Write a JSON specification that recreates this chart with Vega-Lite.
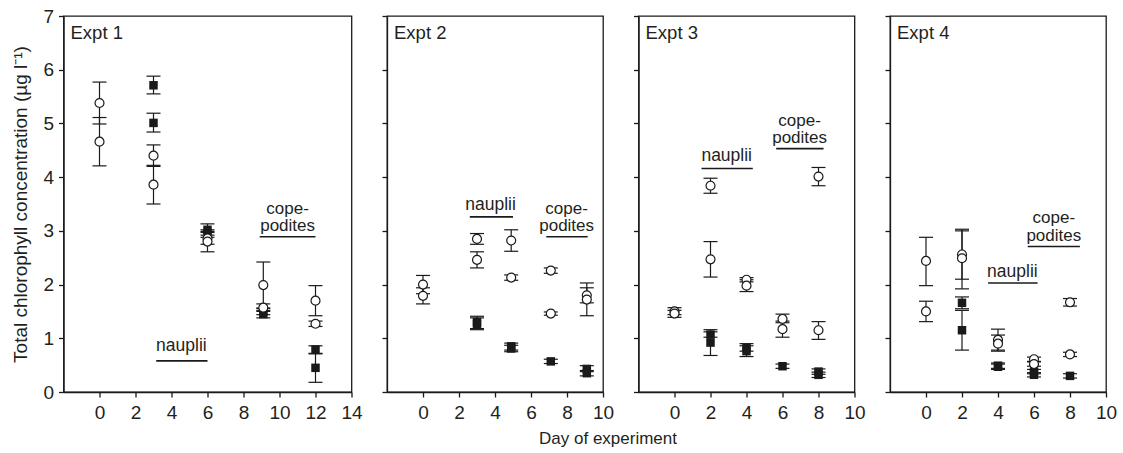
{
  "$schema": "https://vega.github.io/schema/vega-lite/v6.json",
  "background": "white",
  "padding": {"left": 10.5, "top": 6, "right": 5, "bottom": 5},
  "spacing": 35.5,
  "bounds": "flush",
  "config": {
    "font": "Liberation Sans",
    "view": {"stroke": "#1a1a1a", "strokeWidth": 1.3},
    "axis": {
      "grid": false,
      "domainColor": "#1a1a1a",
      "domainWidth": 1.3,
      "tickColor": "#1a1a1a",
      "tickWidth": 1.3,
      "tickSize": 5,
      "labelFont": "Liberation Sans",
      "labelFontSize": 19,
      "labelColor": "#231f20",
      "labelPadding": 5,
      "labelFlush": false,
      "labelOverlap": false,
      "format": "d",
      "titleFont": "Liberation Sans",
      "titleFontWeight": "normal",
      "titleColor": "#231f20"
    }
  },
  "datasets": {
    "pts": [
      {"expt": 1, "day": 0, "kind": "open", "value": 5.38, "lo": 4.99, "hi": 5.77},
      {"expt": 1, "day": 0, "kind": "open", "value": 4.66, "lo": 4.21, "hi": 5.11},
      {"expt": 1, "day": 3, "kind": "filled", "value": 5.71, "lo": 5.55, "hi": 5.88},
      {"expt": 1, "day": 3, "kind": "filled", "value": 5.01, "lo": 4.84, "hi": 5.19},
      {"expt": 1, "day": 3, "kind": "open", "value": 4.40, "lo": 4.20, "hi": 4.60},
      {"expt": 1, "day": 3, "kind": "open", "value": 3.86, "lo": 3.50, "hi": 4.22},
      {"expt": 1, "day": 6, "kind": "filled", "value": 3.02, "lo": 2.92, "hi": 3.13},
      {"expt": 1, "day": 6, "kind": "filled", "value": 2.95, "lo": 2.88, "hi": 3.02},
      {"expt": 1, "day": 6, "kind": "open", "value": 2.86, "lo": 2.75, "hi": 2.97},
      {"expt": 1, "day": 6, "kind": "open", "value": 2.80, "lo": 2.61, "hi": 2.99},
      {"expt": 1, "day": 9.1, "kind": "open", "value": 1.99, "lo": 1.56, "hi": 2.42},
      {"expt": 1, "day": 9.1, "kind": "open", "value": 1.57, "lo": 1.50, "hi": 1.64},
      {"expt": 1, "day": 9.1, "kind": "filled", "value": 1.50, "lo": 1.44, "hi": 1.56},
      {"expt": 1, "day": 9.1, "kind": "filled", "value": 1.45, "lo": 1.38, "hi": 1.52},
      {"expt": 1, "day": 12, "kind": "open", "value": 1.70, "lo": 1.42, "hi": 1.98},
      {"expt": 1, "day": 12, "kind": "open", "value": 1.27, "lo": 1.22, "hi": 1.32},
      {"expt": 1, "day": 12, "kind": "filled", "value": 0.79, "lo": 0.71, "hi": 0.86},
      {"expt": 1, "day": 12, "kind": "filled", "value": 0.45, "lo": 0.18, "hi": 0.72},

      {"expt": 2, "day": 0, "kind": "open", "value": 2.00, "lo": 1.83, "hi": 2.17},
      {"expt": 2, "day": 0, "kind": "open", "value": 1.79, "lo": 1.64, "hi": 1.94},
      {"expt": 2, "day": 3, "kind": "open", "value": 2.85, "lo": 2.75, "hi": 2.95},
      {"expt": 2, "day": 3, "kind": "open", "value": 2.46, "lo": 2.31, "hi": 2.61},
      {"expt": 2, "day": 3, "kind": "filled", "value": 1.30, "lo": 1.18, "hi": 1.41},
      {"expt": 2, "day": 3, "kind": "filled", "value": 1.27, "lo": 1.16, "hi": 1.38},
      {"expt": 2, "day": 4.9, "kind": "open", "value": 2.82, "lo": 2.62, "hi": 3.02},
      {"expt": 2, "day": 4.9, "kind": "open", "value": 2.13, "lo": 2.08, "hi": 2.18},
      {"expt": 2, "day": 4.9, "kind": "filled", "value": 0.85, "lo": 0.78, "hi": 0.91},
      {"expt": 2, "day": 4.9, "kind": "filled", "value": 0.81, "lo": 0.75, "hi": 0.87},
      {"expt": 2, "day": 7.1, "kind": "open", "value": 2.26, "lo": 2.21, "hi": 2.31},
      {"expt": 2, "day": 7.1, "kind": "open", "value": 1.46, "lo": 1.43, "hi": 1.49},
      {"expt": 2, "day": 7.1, "kind": "filled", "value": 0.57, "lo": 0.53, "hi": 0.61},
      {"expt": 2, "day": 9.1, "kind": "open", "value": 1.80, "lo": 1.66, "hi": 1.94},
      {"expt": 2, "day": 9.1, "kind": "open", "value": 1.72, "lo": 1.42, "hi": 2.03},
      {"expt": 2, "day": 9.1, "kind": "filled", "value": 0.43, "lo": 0.38, "hi": 0.49},
      {"expt": 2, "day": 9.1, "kind": "filled", "value": 0.35, "lo": 0.30, "hi": 0.40},

      {"expt": 3, "day": 0, "kind": "open", "value": 1.50, "lo": 1.44, "hi": 1.57},
      {"expt": 3, "day": 0, "kind": "open", "value": 1.46, "lo": 1.39, "hi": 1.52},
      {"expt": 3, "day": 2, "kind": "open", "value": 3.84, "lo": 3.70, "hi": 3.98},
      {"expt": 3, "day": 2, "kind": "open", "value": 2.47, "lo": 2.14, "hi": 2.80},
      {"expt": 3, "day": 2, "kind": "filled", "value": 1.07, "lo": 1.02, "hi": 1.12},
      {"expt": 3, "day": 2, "kind": "filled", "value": 0.92, "lo": 0.68, "hi": 1.16},
      {"expt": 3, "day": 4, "kind": "open", "value": 2.09, "lo": 2.05, "hi": 2.13},
      {"expt": 3, "day": 4, "kind": "open", "value": 1.98, "lo": 1.87, "hi": 2.09},
      {"expt": 3, "day": 4, "kind": "filled", "value": 0.82, "lo": 0.76, "hi": 0.90},
      {"expt": 3, "day": 4, "kind": "filled", "value": 0.76, "lo": 0.66, "hi": 0.86},
      {"expt": 3, "day": 6, "kind": "open", "value": 1.36, "lo": 1.29, "hi": 1.45},
      {"expt": 3, "day": 6, "kind": "open", "value": 1.17, "lo": 1.02, "hi": 1.32},
      {"expt": 3, "day": 6, "kind": "filled", "value": 0.48, "lo": 0.44, "hi": 0.52},
      {"expt": 3, "day": 8, "kind": "open", "value": 4.01, "lo": 3.84, "hi": 4.18},
      {"expt": 3, "day": 8, "kind": "open", "value": 1.15, "lo": 0.98, "hi": 1.31},
      {"expt": 3, "day": 8, "kind": "filled", "value": 0.38, "lo": 0.33, "hi": 0.43},
      {"expt": 3, "day": 8, "kind": "filled", "value": 0.32, "lo": 0.27, "hi": 0.37},

      {"expt": 4, "day": 0, "kind": "open", "value": 2.44, "lo": 1.98, "hi": 2.88},
      {"expt": 4, "day": 0, "kind": "open", "value": 1.50, "lo": 1.31, "hi": 1.69},
      {"expt": 4, "day": 2, "kind": "open", "value": 2.56, "lo": 2.10, "hi": 3.03},
      {"expt": 4, "day": 2, "kind": "open", "value": 2.49, "lo": 1.92, "hi": 3.00},
      {"expt": 4, "day": 2, "kind": "filled", "value": 1.66, "lo": 1.55, "hi": 1.77},
      {"expt": 4, "day": 2, "kind": "filled", "value": 1.15, "lo": 0.78, "hi": 1.52},
      {"expt": 4, "day": 4, "kind": "open", "value": 0.97, "lo": 0.78, "hi": 1.17},
      {"expt": 4, "day": 4, "kind": "open", "value": 0.90, "lo": 0.76, "hi": 1.06},
      {"expt": 4, "day": 4, "kind": "filled", "value": 0.49, "lo": 0.44, "hi": 0.54},
      {"expt": 4, "day": 4, "kind": "filled", "value": 0.47, "lo": 0.42, "hi": 0.52},
      {"expt": 4, "day": 6, "kind": "open", "value": 0.61, "lo": 0.57, "hi": 0.65},
      {"expt": 4, "day": 6, "kind": "open", "value": 0.52, "lo": 0.48, "hi": 0.56},
      {"expt": 4, "day": 6, "kind": "filled", "value": 0.38, "lo": 0.34, "hi": 0.42},
      {"expt": 4, "day": 6, "kind": "filled", "value": 0.32, "lo": 0.28, "hi": 0.36},
      {"expt": 4, "day": 8, "kind": "open", "value": 1.67, "lo": 1.60, "hi": 1.74},
      {"expt": 4, "day": 8, "kind": "open", "value": 0.70, "lo": 0.66, "hi": 0.74},
      {"expt": 4, "day": 8, "kind": "filled", "value": 0.30, "lo": 0.26, "hi": 0.34}
    ],
    "notes": [
      {"expt": 1, "text": "nauplii", "x1": 3.15, "x2": 6.0, "xc": 4.55, "y": 0.58},
      {"expt": 1, "text": "cope-\npodites", "x1": 8.9, "x2": 12.0, "xc": 10.45, "y": 2.89},
      {"expt": 2, "text": "nauplii", "x1": 2.6, "x2": 5.0, "xc": 3.75, "y": 3.26},
      {"expt": 2, "text": "cope-\npodites", "x1": 6.85, "x2": 9.15, "xc": 7.98, "y": 2.89},
      {"expt": 3, "text": "nauplii", "x1": 1.5, "x2": 4.35, "xc": 2.9, "y": 4.16},
      {"expt": 3, "text": "cope-\npodites", "x1": 5.65, "x2": 8.28, "xc": 6.95, "y": 4.53},
      {"expt": 4, "text": "nauplii", "x1": 3.45, "x2": 6.2, "xc": 4.8, "y": 2.03},
      {"expt": 4, "text": "cope-\npodites", "x1": 5.65, "x2": 8.55, "xc": 7.1, "y": 2.71}
    ],
    "labels": [
      {"expt": 1, "text": "Expt 1"},
      {"expt": 2, "text": "Expt 2"},
      {"expt": 3, "text": "Expt 3"},
      {"expt": 4, "text": "Expt 4"}
    ]
  },
  "hconcat": [
    {
      "width": 288, "height": 376,
      "layer": [
        {"data": {"name": "pts"}, "transform": [{"filter": "datum.expt == 1"}],
         "mark": {"type": "rule", "color": "#1a1a1a", "strokeWidth": 1.2},
         "encoding": {
           "x": {"field": "day", "type": "quantitative", "scale": {"domain": [-2, 14], "nice": false, "zero": false}, "axis": {"values": [0, 2, 4, 6, 8, 10, 12, 14], "title": null, "labelPadding": 6}},
           "y": {"field": "lo", "type": "quantitative", "scale": {"domain": [0, 7], "nice": false}, "axis": {"values": [0, 1, 2, 3, 4, 5, 6, 7], "title": "Total chlorophyll concentration (µg l⁻¹)", "titleFontSize": 19, "titlePadding": 12}},
           "y2": {"field": "hi"}}},
        {"data": {"name": "pts"}, "transform": [{"filter": "datum.expt == 1"}],
         "mark": {"type": "tick", "orient": "horizontal", "size": 14, "thickness": 1.2, "color": "#1a1a1a", "opacity": 1},
         "encoding": {"x": {"field": "day", "type": "quantitative"}, "y": {"field": "lo", "type": "quantitative"}}},
        {"data": {"name": "pts"}, "transform": [{"filter": "datum.expt == 1"}],
         "mark": {"type": "tick", "orient": "horizontal", "size": 14, "thickness": 1.2, "color": "#1a1a1a", "opacity": 1},
         "encoding": {"x": {"field": "day", "type": "quantitative"}, "y": {"field": "hi", "type": "quantitative"}}},
        {"data": {"name": "pts"}, "transform": [{"filter": "datum.expt == 1 && datum.kind == 'filled'"}],
         "mark": {"type": "point", "shape": "square", "filled": true, "color": "#1a1a1a", "size": 72, "opacity": 1},
         "encoding": {"x": {"field": "day", "type": "quantitative"}, "y": {"field": "value", "type": "quantitative"}}},
        {"data": {"name": "pts"}, "transform": [{"filter": "datum.expt == 1 && datum.kind == 'open'"}],
         "mark": {"type": "point", "shape": "circle", "filled": true, "fill": "white", "stroke": "#1a1a1a", "strokeWidth": 1.2, "size": 80, "opacity": 1},
         "encoding": {"x": {"field": "day", "type": "quantitative"}, "y": {"field": "value", "type": "quantitative"}}},
        {"data": {"name": "notes"}, "transform": [{"filter": "datum.expt == 1"}],
         "mark": {"type": "rule", "color": "#1a1a1a", "strokeWidth": 1.6},
         "encoding": {"x": {"field": "x1", "type": "quantitative"}, "x2": {"field": "x2"}, "y": {"field": "y", "type": "quantitative"}}},
        {"data": {"name": "notes"}, "transform": [{"filter": "datum.expt == 1 && datum.text == 'nauplii'"}],
         "mark": {"type": "text", "fontSize": 17.5, "color": "#231f20", "align": "center", "baseline": "alphabetic", "dy": -10},
         "encoding": {"x": {"field": "xc", "type": "quantitative"}, "y": {"field": "y", "type": "quantitative"}, "text": {"field": "text"}}},
        {"data": {"name": "notes"}, "transform": [{"filter": "datum.expt == 1 && datum.text != 'nauplii'"}],
         "mark": {"type": "text", "fontSize": 17, "color": "#231f20", "align": "center", "baseline": "alphabetic", "dy": -23, "lineBreak": "\n", "lineHeight": 17.5},
         "encoding": {"x": {"field": "xc", "type": "quantitative"}, "y": {"field": "y", "type": "quantitative"}, "text": {"field": "text"}}},
        {"data": {"name": "labels"}, "transform": [{"filter": "datum.expt == 1"}],
         "mark": {"type": "text", "fontSize": 18.5, "color": "#231f20", "align": "left", "baseline": "alphabetic", "dx": 7, "dy": 23},
         "encoding": {"x": {"datum": -2, "type": "quantitative"}, "y": {"datum": 7, "type": "quantitative"}, "text": {"field": "text"}}}
      ]
    },
    {
      "width": 216, "height": 376,
      "layer": [
        {"data": {"name": "pts"}, "transform": [{"filter": "datum.expt == 2"}],
         "mark": {"type": "rule", "color": "#1a1a1a", "strokeWidth": 1.2},
         "encoding": {
           "x": {"field": "day", "type": "quantitative", "scale": {"domain": [-2, 10], "nice": false, "zero": false}, "axis": {"values": [0, 2, 4, 6, 8, 10], "title": null, "labelPadding": 6}},
           "y": {"field": "lo", "type": "quantitative", "scale": {"domain": [0, 7], "nice": false}, "axis": {"values": [0, 1, 2, 3, 4, 5, 6, 7], "title": null, "labels": false}},
           "y2": {"field": "hi"}}},
        {"data": {"name": "pts"}, "transform": [{"filter": "datum.expt == 2"}],
         "mark": {"type": "tick", "orient": "horizontal", "size": 14, "thickness": 1.2, "color": "#1a1a1a", "opacity": 1},
         "encoding": {"x": {"field": "day", "type": "quantitative"}, "y": {"field": "lo", "type": "quantitative"}}},
        {"data": {"name": "pts"}, "transform": [{"filter": "datum.expt == 2"}],
         "mark": {"type": "tick", "orient": "horizontal", "size": 14, "thickness": 1.2, "color": "#1a1a1a", "opacity": 1},
         "encoding": {"x": {"field": "day", "type": "quantitative"}, "y": {"field": "hi", "type": "quantitative"}}},
        {"data": {"name": "pts"}, "transform": [{"filter": "datum.expt == 2 && datum.kind == 'filled'"}],
         "mark": {"type": "point", "shape": "square", "filled": true, "color": "#1a1a1a", "size": 72, "opacity": 1},
         "encoding": {"x": {"field": "day", "type": "quantitative"}, "y": {"field": "value", "type": "quantitative"}}},
        {"data": {"name": "pts"}, "transform": [{"filter": "datum.expt == 2 && datum.kind == 'open'"}],
         "mark": {"type": "point", "shape": "circle", "filled": true, "fill": "white", "stroke": "#1a1a1a", "strokeWidth": 1.2, "size": 80, "opacity": 1},
         "encoding": {"x": {"field": "day", "type": "quantitative"}, "y": {"field": "value", "type": "quantitative"}}},
        {"data": {"name": "notes"}, "transform": [{"filter": "datum.expt == 2"}],
         "mark": {"type": "rule", "color": "#1a1a1a", "strokeWidth": 1.6},
         "encoding": {"x": {"field": "x1", "type": "quantitative"}, "x2": {"field": "x2"}, "y": {"field": "y", "type": "quantitative"}}},
        {"data": {"name": "notes"}, "transform": [{"filter": "datum.expt == 2 && datum.text == 'nauplii'"}],
         "mark": {"type": "text", "fontSize": 17.5, "color": "#231f20", "align": "center", "baseline": "alphabetic", "dy": -7},
         "encoding": {"x": {"field": "xc", "type": "quantitative"}, "y": {"field": "y", "type": "quantitative"}, "text": {"field": "text"}}},
        {"data": {"name": "notes"}, "transform": [{"filter": "datum.expt == 2 && datum.text != 'nauplii'"}],
         "mark": {"type": "text", "fontSize": 17, "color": "#231f20", "align": "center", "baseline": "alphabetic", "dy": -23, "lineBreak": "\n", "lineHeight": 17.5},
         "encoding": {"x": {"field": "xc", "type": "quantitative"}, "y": {"field": "y", "type": "quantitative"}, "text": {"field": "text"}}},
        {"data": {"name": "labels"}, "transform": [{"filter": "datum.expt == 2"}],
         "mark": {"type": "text", "fontSize": 18.5, "color": "#231f20", "align": "left", "baseline": "alphabetic", "dx": 7, "dy": 23},
         "encoding": {"x": {"datum": -2, "type": "quantitative"}, "y": {"datum": 7, "type": "quantitative"}, "text": {"field": "text"}}}
      ]
    },
    {
      "width": 216, "height": 376,
      "layer": [
        {"data": {"name": "pts"}, "transform": [{"filter": "datum.expt == 3"}],
         "mark": {"type": "rule", "color": "#1a1a1a", "strokeWidth": 1.2},
         "encoding": {
           "x": {"field": "day", "type": "quantitative", "scale": {"domain": [-2, 10], "nice": false, "zero": false}, "axis": {"values": [0, 2, 4, 6, 8, 10], "title": "Day of experiment", "labelPadding": 6, "titleFontSize": 17, "titleX": -31, "titleY": 51, "titleBaseline": "alphabetic", "titleAlign": "center"}},
           "y": {"field": "lo", "type": "quantitative", "scale": {"domain": [0, 7], "nice": false}, "axis": {"values": [0, 1, 2, 3, 4, 5, 6, 7], "title": null, "labels": false}},
           "y2": {"field": "hi"}}},
        {"data": {"name": "pts"}, "transform": [{"filter": "datum.expt == 3"}],
         "mark": {"type": "tick", "orient": "horizontal", "size": 14, "thickness": 1.2, "color": "#1a1a1a", "opacity": 1},
         "encoding": {"x": {"field": "day", "type": "quantitative"}, "y": {"field": "lo", "type": "quantitative"}}},
        {"data": {"name": "pts"}, "transform": [{"filter": "datum.expt == 3"}],
         "mark": {"type": "tick", "orient": "horizontal", "size": 14, "thickness": 1.2, "color": "#1a1a1a", "opacity": 1},
         "encoding": {"x": {"field": "day", "type": "quantitative"}, "y": {"field": "hi", "type": "quantitative"}}},
        {"data": {"name": "pts"}, "transform": [{"filter": "datum.expt == 3 && datum.kind == 'filled'"}],
         "mark": {"type": "point", "shape": "square", "filled": true, "color": "#1a1a1a", "size": 72, "opacity": 1},
         "encoding": {"x": {"field": "day", "type": "quantitative"}, "y": {"field": "value", "type": "quantitative"}}},
        {"data": {"name": "pts"}, "transform": [{"filter": "datum.expt == 3 && datum.kind == 'open'"}],
         "mark": {"type": "point", "shape": "circle", "filled": true, "fill": "white", "stroke": "#1a1a1a", "strokeWidth": 1.2, "size": 80, "opacity": 1},
         "encoding": {"x": {"field": "day", "type": "quantitative"}, "y": {"field": "value", "type": "quantitative"}}},
        {"data": {"name": "notes"}, "transform": [{"filter": "datum.expt == 3"}],
         "mark": {"type": "rule", "color": "#1a1a1a", "strokeWidth": 1.6},
         "encoding": {"x": {"field": "x1", "type": "quantitative"}, "x2": {"field": "x2"}, "y": {"field": "y", "type": "quantitative"}}},
        {"data": {"name": "notes"}, "transform": [{"filter": "datum.expt == 3 && datum.text == 'nauplii'"}],
         "mark": {"type": "text", "fontSize": 17.5, "color": "#231f20", "align": "center", "baseline": "alphabetic", "dy": -7.5},
         "encoding": {"x": {"field": "xc", "type": "quantitative"}, "y": {"field": "y", "type": "quantitative"}, "text": {"field": "text"}}},
        {"data": {"name": "notes"}, "transform": [{"filter": "datum.expt == 3 && datum.text != 'nauplii'"}],
         "mark": {"type": "text", "fontSize": 17, "color": "#231f20", "align": "center", "baseline": "alphabetic", "dy": -23, "lineBreak": "\n", "lineHeight": 17.5},
         "encoding": {"x": {"field": "xc", "type": "quantitative"}, "y": {"field": "y", "type": "quantitative"}, "text": {"field": "text"}}},
        {"data": {"name": "labels"}, "transform": [{"filter": "datum.expt == 3"}],
         "mark": {"type": "text", "fontSize": 18.5, "color": "#231f20", "align": "left", "baseline": "alphabetic", "dx": 7, "dy": 23},
         "encoding": {"x": {"datum": -2, "type": "quantitative"}, "y": {"datum": 7, "type": "quantitative"}, "text": {"field": "text"}}}
      ]
    },
    {
      "width": 216, "height": 376,
      "layer": [
        {"data": {"name": "pts"}, "transform": [{"filter": "datum.expt == 4"}],
         "mark": {"type": "rule", "color": "#1a1a1a", "strokeWidth": 1.2},
         "encoding": {
           "x": {"field": "day", "type": "quantitative", "scale": {"domain": [-2, 10], "nice": false, "zero": false}, "axis": {"values": [0, 2, 4, 6, 8, 10], "title": null, "labelPadding": 6}},
           "y": {"field": "lo", "type": "quantitative", "scale": {"domain": [0, 7], "nice": false}, "axis": {"values": [0, 1, 2, 3, 4, 5, 6, 7], "title": null, "labels": false}},
           "y2": {"field": "hi"}}},
        {"data": {"name": "pts"}, "transform": [{"filter": "datum.expt == 4"}],
         "mark": {"type": "tick", "orient": "horizontal", "size": 14, "thickness": 1.2, "color": "#1a1a1a", "opacity": 1},
         "encoding": {"x": {"field": "day", "type": "quantitative"}, "y": {"field": "lo", "type": "quantitative"}}},
        {"data": {"name": "pts"}, "transform": [{"filter": "datum.expt == 4"}],
         "mark": {"type": "tick", "orient": "horizontal", "size": 14, "thickness": 1.2, "color": "#1a1a1a", "opacity": 1},
         "encoding": {"x": {"field": "day", "type": "quantitative"}, "y": {"field": "hi", "type": "quantitative"}}},
        {"data": {"name": "pts"}, "transform": [{"filter": "datum.expt == 4 && datum.kind == 'filled'"}],
         "mark": {"type": "point", "shape": "square", "filled": true, "color": "#1a1a1a", "size": 72, "opacity": 1},
         "encoding": {"x": {"field": "day", "type": "quantitative"}, "y": {"field": "value", "type": "quantitative"}}},
        {"data": {"name": "pts"}, "transform": [{"filter": "datum.expt == 4 && datum.kind == 'open'"}],
         "mark": {"type": "point", "shape": "circle", "filled": true, "fill": "white", "stroke": "#1a1a1a", "strokeWidth": 1.2, "size": 80, "opacity": 1},
         "encoding": {"x": {"field": "day", "type": "quantitative"}, "y": {"field": "value", "type": "quantitative"}}},
        {"data": {"name": "notes"}, "transform": [{"filter": "datum.expt == 4"}],
         "mark": {"type": "rule", "color": "#1a1a1a", "strokeWidth": 1.6},
         "encoding": {"x": {"field": "x1", "type": "quantitative"}, "x2": {"field": "x2"}, "y": {"field": "y", "type": "quantitative"}}},
        {"data": {"name": "notes"}, "transform": [{"filter": "datum.expt == 4 && datum.text == 'nauplii'"}],
         "mark": {"type": "text", "fontSize": 17.5, "color": "#231f20", "align": "center", "baseline": "alphabetic", "dy": -6},
         "encoding": {"x": {"field": "xc", "type": "quantitative"}, "y": {"field": "y", "type": "quantitative"}, "text": {"field": "text"}}},
        {"data": {"name": "notes"}, "transform": [{"filter": "datum.expt == 4 && datum.text != 'nauplii'"}],
         "mark": {"type": "text", "fontSize": 17, "color": "#231f20", "align": "center", "baseline": "alphabetic", "dy": -23, "lineBreak": "\n", "lineHeight": 17.5},
         "encoding": {"x": {"field": "xc", "type": "quantitative"}, "y": {"field": "y", "type": "quantitative"}, "text": {"field": "text"}}},
        {"data": {"name": "labels"}, "transform": [{"filter": "datum.expt == 4"}],
         "mark": {"type": "text", "fontSize": 18.5, "color": "#231f20", "align": "left", "baseline": "alphabetic", "dx": 7, "dy": 23},
         "encoding": {"x": {"datum": -2, "type": "quantitative"}, "y": {"datum": 7, "type": "quantitative"}, "text": {"field": "text"}}}
      ]
    }
  ]
}
